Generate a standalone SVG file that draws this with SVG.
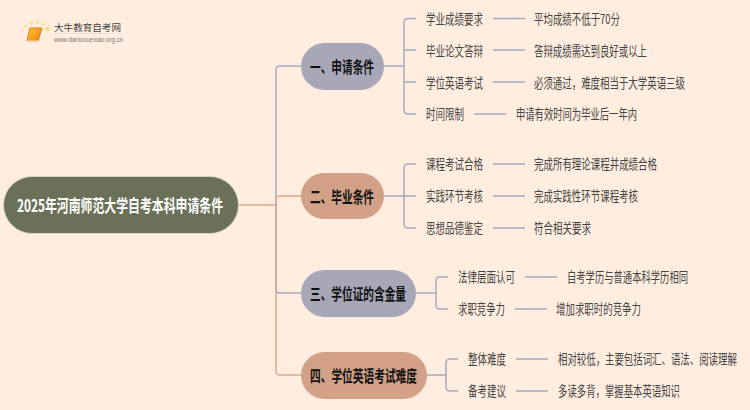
<svg xmlns="http://www.w3.org/2000/svg" width="750" height="410" viewBox="0 0 750 410">
<defs>
<style>
text{font-family:"Noto Sans CJK SC","Liberation Sans",sans-serif;}
.c{fill:none;stroke-width:1.5}
.b{stroke:#a5a9c0}
.o{stroke:#dca98c}
.l{font-size:13.5px;fill:#444;dominant-baseline:central}
.m{font-size:16px;font-weight:700;fill:#111;dominant-baseline:central}
</style>
<linearGradient id="bk" x1="0" y1="0" x2="1" y2="1"><stop offset="0" stop-color="#ffc933"/><stop offset="1" stop-color="#ef7d13"/></linearGradient>
</defs>
<rect width="750" height="410" fill="#ffeee0"/>
<g id="logo">
<circle cx="47.500" cy="29" r="2.200" fill="#ffd97a"/><circle cx="43" cy="24" r="1.800" fill="#ffdf90"/><circle cx="37.500" cy="22" r="1.800" fill="#ffdc85"/><circle cx="31" cy="23" r="1.800" fill="#ffdc85"/><circle cx="26" cy="26" r="1.600" fill="#ffe3a5"/><circle cx="22.500" cy="31" r="1.400" fill="#ffe5b0"/><circle cx="22" cy="37" r="1.200" fill="#ffe8c0"/><circle cx="23.500" cy="42" r="1" fill="#ffe8c0"/>
<path d="M30 28H42L38 41H27Z" fill="url(#bk)" stroke="#e07a15" stroke-width="1"/>
<path d="M27.500 41H38" stroke="#fff2d0" stroke-width="1"/>
<text x="54" y="27" textLength="67" lengthAdjust="spacingAndGlyphs" style="font-size:9.500px;fill:#444;dominant-baseline:central">大牛教育自考网</text>
<path d="M54 33.500H108" stroke="#ddd" stroke-width="0.800"/>
<text x="54" y="39" textLength="69" lengthAdjust="spacingAndGlyphs" style="font-size:6.400px;fill:#777;font-family:'Liberation Sans',sans-serif;dominant-baseline:central">www.daniuxuexiao.org.cn</text>
</g>
<g id="connectors">
<path class="c o" d="M238 205H276"/>
<path class="c b" d="M276 205V70Q276 66 280 66H301"/>
<path class="c o" d="M276 205V200Q276 196 280 196H301"/>
<path class="c b" d="M276 205V289Q276 293 280 293H301"/>
<path class="c o" d="M276 205V371Q276 375 280 375H301"/>
<path class="c b" d="M384 66H404"/>
<path class="c b" d="M416 18.500H408Q404 18.500 404 22.500V110Q404 114 408 114H416M404 50H416M404 82H416"/>
<path class="c b" d="M493 18.500H525M493 50H525M493 82H525M474 114H506"/>
<path class="c b" d="M384 196H404"/>
<path class="c b" d="M416 164H408Q404 164 404 168V224Q404 228 408 228H416M404 196H416"/>
<path class="c b" d="M493 164H525M493 196H525M493 228H525"/>
<path class="c b" d="M416 293H436"/>
<path class="c b" d="M448 277H440Q436 277 436 281V305Q436 309 440 309H448"/>
<path class="c b" d="M525 277H557M515 309H547"/>
<path class="c b" d="M427 375H446"/>
<path class="c b" d="M458 359H450Q446 359 446 363V387Q446 391 450 391H458"/>
<path class="c b" d="M516 359H548M516 391H548"/>
</g>
<g id="root"><rect x="3.500" y="176.500" width="235" height="57" rx="28.500" fill="#6a7158" stroke="#d9d4bd"/><text x="17" y="204" textLength="206" lengthAdjust="spacingAndGlyphs" style="font-size:17px;font-weight:700;fill:#fff;dominant-baseline:central">2025年河南师范大学自考本科申请条件</text></g>
<g id="n1"><rect x="301" y="43" width="83" height="47" rx="23.500" fill="#a7a7b8"/><text class="m" x="310" y="66" textLength="64" lengthAdjust="spacingAndGlyphs">一、申请条件</text></g>
<g id="n2"><rect x="301" y="173" width="83" height="46" rx="23" fill="#d2a188"/><text class="m" x="310" y="196" textLength="64" lengthAdjust="spacingAndGlyphs">二、毕业条件</text></g>
<g id="n3"><rect x="301" y="270" width="115" height="47" rx="23.500" fill="#a7a7b8"/><text class="m" x="310" y="293" textLength="96" lengthAdjust="spacingAndGlyphs">三、学位证的含金量</text></g>
<g id="n4"><rect x="301" y="352" width="126" height="47" rx="23.500" fill="#d2a188"/><text class="m" x="310" y="375" textLength="107" lengthAdjust="spacingAndGlyphs">四、学位英语考试难度</text></g>
<g id="t1"><text class="l" x="426" y="18" textLength="57" lengthAdjust="spacingAndGlyphs">学业成绩要求</text></g>
<g id="t2"><text class="l" x="534" y="18" textLength="86" lengthAdjust="spacingAndGlyphs">平均成绩不低于70分</text></g>
<g id="t3"><text class="l" x="426" y="50" textLength="57" lengthAdjust="spacingAndGlyphs">毕业论文答辩</text></g>
<g id="t4"><text class="l" x="534" y="50" textLength="113" lengthAdjust="spacingAndGlyphs">答辩成绩需达到良好或以上</text></g>
<g id="t5"><text class="l" x="426" y="82" textLength="57" lengthAdjust="spacingAndGlyphs">学位英语考试</text></g>
<g id="t6"><text class="l" x="534" y="82" textLength="151" lengthAdjust="spacingAndGlyphs">必须通过，难度相当于大学英语三级</text></g>
<g id="t7"><text class="l" x="426" y="113" textLength="38" lengthAdjust="spacingAndGlyphs">时间限制</text></g>
<g id="t8"><text class="l" x="516" y="113" textLength="121" lengthAdjust="spacingAndGlyphs">申请有效时间为毕业后一年内</text></g>
<g id="t9"><text class="l" x="426" y="163" textLength="57" lengthAdjust="spacingAndGlyphs">课程考试合格</text></g>
<g id="t10"><text class="l" x="534" y="163" textLength="123" lengthAdjust="spacingAndGlyphs">完成所有理论课程并成绩合格</text></g>
<g id="t11"><text class="l" x="426" y="195" textLength="57" lengthAdjust="spacingAndGlyphs">实践环节考核</text></g>
<g id="t12"><text class="l" x="534" y="195" textLength="104" lengthAdjust="spacingAndGlyphs">完成实践性环节课程考核</text></g>
<g id="t13"><text class="l" x="426" y="227" textLength="57" lengthAdjust="spacingAndGlyphs">思想品德鉴定</text></g>
<g id="t14"><text class="l" x="534" y="227" textLength="57" lengthAdjust="spacingAndGlyphs">符合相关要求</text></g>
<g id="t15"><text class="l" x="458" y="276" textLength="57" lengthAdjust="spacingAndGlyphs">法律层面认可</text></g>
<g id="t16"><text class="l" x="567" y="276" textLength="121" lengthAdjust="spacingAndGlyphs">自考学历与普通本科学历相同</text></g>
<g id="t17"><text class="l" x="458" y="308" textLength="47" lengthAdjust="spacingAndGlyphs">求职竞争力</text></g>
<g id="t18"><text class="l" x="556" y="308" textLength="85" lengthAdjust="spacingAndGlyphs">增加求职时的竞争力</text></g>
<g id="t19"><text class="l" x="468" y="358" textLength="38" lengthAdjust="spacingAndGlyphs">整体难度</text></g>
<g id="t20"><text class="l" transform="translate(558 358) scale(0.698 1)">相对较低，主要包括词汇、语法、阅读理解</text></g>
<g id="t21"><text class="l" x="468" y="390" textLength="38" lengthAdjust="spacingAndGlyphs">备考建议</text></g>
<g id="t22"><text class="l" x="558" y="390" textLength="122" lengthAdjust="spacingAndGlyphs">多读多背，掌握基本英语知识</text></g>
</svg>
